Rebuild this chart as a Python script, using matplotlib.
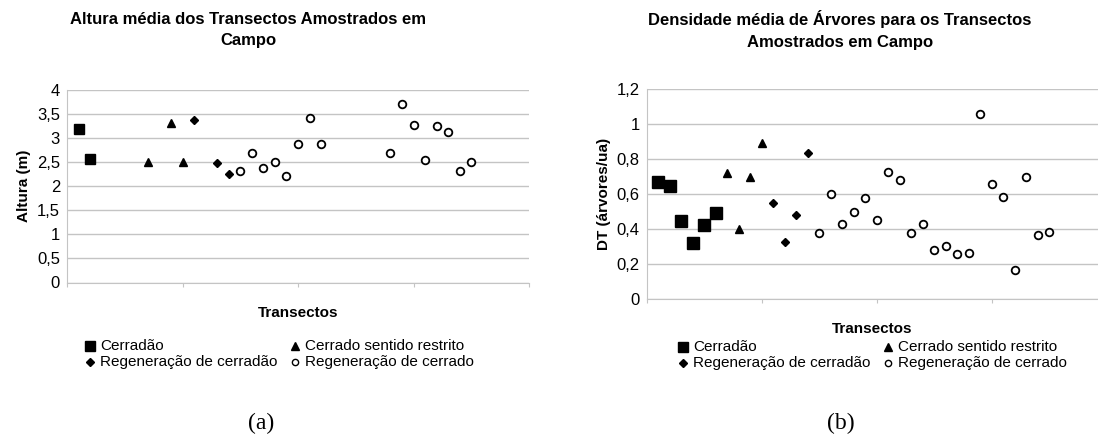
import matplotlib
matplotlib.use("Agg")
import matplotlib.pyplot as plt
from matplotlib.lines import Line2D
from matplotlib.ticker import FuncFormatter, MultipleLocator

plt.rcParams["font.family"] = ["Liberation Sans", "DejaVu Sans"]

# ── data (a): altura média ─────────────────────────────────────────
a_cerradao_x = [1, 2]
a_cerradao_y = [3.19, 2.55]
a_restrito_x = [7, 9, 10]
a_restrito_y = [2.49, 3.31, 2.49]
a_regen_cerradao_x = [11, 13, 14]
a_regen_cerradao_y = [3.36, 2.47, 2.24]
a_regen_cerrado_x = [15, 16, 17, 18, 19, 20, 21, 22, 28, 29, 30, 31, 32, 33, 34, 35]
a_regen_cerrado_y = [2.31, 2.68, 2.38, 2.49, 2.21, 2.87, 3.41, 2.87,
                     2.68, 3.70, 3.26, 2.54, 3.24, 3.12, 2.31, 2.49]

# ── data (b): densidade média ──────────────────────────────────────
b_cerradao_x = [1, 2, 3, 4, 5, 6]
b_cerradao_y = [0.67, 0.645, 0.447, 0.317, 0.42, 0.492]
b_restrito_x = [7, 8, 9, 10]
b_restrito_y = [0.718, 0.399, 0.697, 0.893]
b_regen_cerradao_x = [11, 12, 13, 14]
b_regen_cerradao_y = [0.548, 0.324, 0.477, 0.836]
b_regen_cerrado_x = list(range(15, 36))
b_regen_cerrado_y = [0.376, 0.599, 0.426, 0.496, 0.574, 0.452, 0.723, 0.677,
                     0.376, 0.427, 0.279, 0.300, 0.254, 0.260, 1.055, 0.658,
                     0.580, 0.166, 0.698, 0.363, 0.382]

legend_labels = ["Cerradão", "Cerrado sentido restrito",
                 "Regeneração de cerradão", "Regeneração de cerrado"]

GRID = "#c4c4c4"


def comma(v, pos):
    s = f"{v:g}"
    return s.replace(".", ",")


def style(ax, ymax, ystep):
    ax.set_ylim(0, ymax)
    ax.yaxis.set_major_locator(MultipleLocator(ystep))
    ax.yaxis.set_major_formatter(FuncFormatter(comma))
    ax.xaxis.set_major_locator(MultipleLocator(10))
    ax.set_xticklabels([])
    ax.grid(axis="y", color=GRID, lw=1.0)
    ax.set_axisbelow(True)
    for s in ("top", "right"):
        ax.spines[s].set_visible(False)
    for s in ("left", "bottom"):
        ax.spines[s].set_color(GRID)
    ax.tick_params(axis="y", length=0, labelsize=12, pad=5)
    ax.tick_params(axis="x", length=3, color=GRID, direction="out")
    ax.set_xlabel("Transectos", fontsize=11, fontweight="bold")


def draw(ax, sx, sy, tx, ty, dx, dy, cx, cy, sq):
    ax.plot(sx, sy, "s", color="black", ms=sq, ls="none", clip_on=False)
    ax.plot(tx, ty, "^", color="black", ms=6.0, ls="none")
    ax.plot(dx, dy, "D", color="black", ms=4.0, ls="none")
    ax.plot(cx, cy, "o", mfc="white", mec="black", mew=1.3, ms=5.5, ls="none")


def legend(fig, x0, x1, y0, y1):
    items = [
        (x0, y0, dict(marker="s", color="black", ms=7.5), legend_labels[0]),
        (x1, y0, dict(marker="^", color="black", ms=5.5), legend_labels[1]),
        (x0, y1, dict(marker="D", color="black", ms=3.8), legend_labels[2]),
        (x1, y1, dict(marker="o", mfc="white", mec="black", mew=1.0, ms=4.5), legend_labels[3]),
    ]
    for x, y, kw, lab in items:
        fig.add_artist(Line2D([x / 1098], [1 - y / 437], ls="none",
                              transform=fig.transFigure, **kw))
        fig.text((x + 10) / 1098, 1 - y / 437, lab, fontsize=11, va="center")


fig = plt.figure(figsize=(10.98, 4.37), dpi=100)

# --- (a) ---
ax1 = fig.add_axes([67 / 1098, 1 - 282.5 / 437, 462 / 1098, 193 / 437])
draw(ax1, a_cerradao_x, a_cerradao_y, a_restrito_x, a_restrito_y,
     a_regen_cerradao_x, a_regen_cerradao_y, a_regen_cerrado_x, a_regen_cerrado_y, 7.5)
ax1.set_xlim(0, 40)
style(ax1, 4, 0.5)
ax1.set_ylabel("Altura (m)", fontsize=11, fontweight="bold", labelpad=4)
ax1.xaxis.set_label_coords(0.5, -0.12)
fig.text(248 / 1098, 1 - 30 / 437,
         "Altura média dos Transectos Amostrados em\nCampo",
         ha="center", va="center", fontsize=12, fontweight="bold", linespacing=1.5)

# --- (b) ---
ax2 = fig.add_axes([646.7 / 1098, 1 - 298.7 / 437, 451.3 / 1098, 209.7 / 437])
draw(ax2, b_cerradao_x, b_cerradao_y, b_restrito_x, b_restrito_y,
     b_regen_cerradao_x, b_regen_cerradao_y, b_regen_cerrado_x, b_regen_cerrado_y, 8.2)
ax2.set_xlim(0, 39.25)
style(ax2, 1.2, 0.2)
ax2.set_ylabel("DT (árvores/ua)", fontsize=11, fontweight="bold", labelpad=4)
ax2.xaxis.set_label_coords(0.5, -0.11)
fig.text(840 / 1098, 1 - 30 / 437,
         "Densidade média de Árvores para os Transectos\nAmostrados em Campo",
         ha="center", va="center", fontsize=12, fontweight="bold", linespacing=1.5)

legend(fig, 90, 295, 346, 362)
legend(fig, 683, 888, 347, 363)

fig.text(261 / 1098, 1 - 423 / 437, "(a)", ha="center", va="center",
         fontsize=17, family=["Liberation Serif", "DejaVu Serif"])
fig.text(841 / 1098, 1 - 423 / 437, "(b)", ha="center", va="center",
         fontsize=17, family=["Liberation Serif", "DejaVu Serif"])

fig.savefig("out.png", dpi=100)
